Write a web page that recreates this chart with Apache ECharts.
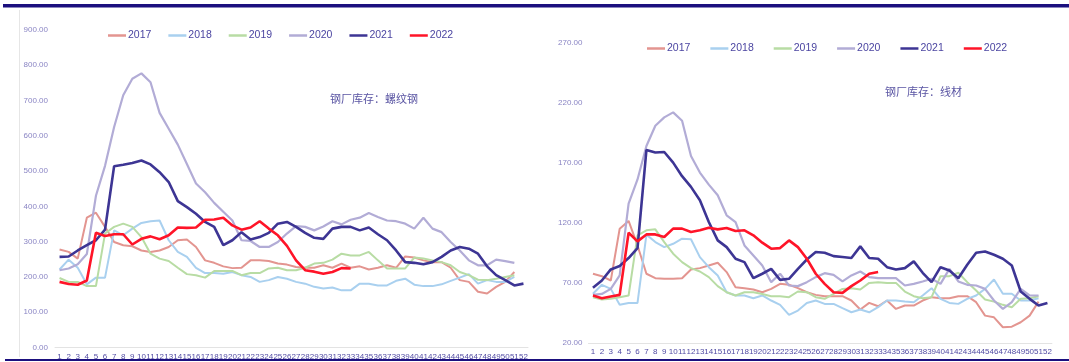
<!DOCTYPE html>
<html>
<head>
<meta charset="utf-8">
<script src="https://cdn.jsdelivr.net/npm/echarts@6/dist/echarts.min.js"></script>
<style>
  html, body { margin: 0; padding: 0; background: #ffffff; }
  #chart { width: 1069px; height: 362px; }
</style>
</head>
<body>
<div id="chart"></div>
<script>
// Week numbers 1..52
const weeks = Array.from({ length: 52 }, (_, i) => String(i + 1));
const years = ['2017', '2018', '2019', '2020', '2021', '2022'];

// Steel mill inventory: rebar (螺纹钢), weekly
const rebar2017 = [278,271,252,368,382,342,299,290,287,275,271,275,285,304,306,285,247,240,230,225,226,247,247,245,238,235,228,226,226,233,226,238,226,230,221,226,233,226,258,255,247,242,242,226,191,186,158,153,172,186,214];
const rebar2018 = [221,249,226,179,198,198,332,318,337,353,358,360,304,271,257,226,211,211,209,214,205,200,186,191,200,195,186,181,172,167,170,162,162,181,181,176,176,189,195,178,174,174,179,189,198,208,181,191,186,186,200];
const rebar2019 = [197,186,186,174,174,323,342,351,342,313,266,252,245,226,208,205,198,217,217,217,205,211,211,224,226,219,219,226,238,240,249,266,261,261,271,247,224,224,224,255,252,247,242,233,214,205,192,191,195,200,205];
const rebar2020 = [219,224,236,265,430,515,625,715,762,777,752,665,620,575,520,465,440,410,385,360,304,302,285,285,299,323,344,342,332,343,358,349,362,368,381,370,360,358,351,337,368,337,327,299,275,247,233,233,249,245,240];
const rebar2021 = [257,258,275,290,304,334,514,518,523,530,519,497,469,415,398,379,356,342,290,304,327,306,313,325,351,356,342,325,311,308,337,342,342,332,340,321,304,275,242,240,236,242,257,275,285,280,266,230,205,191,176,181];
const rebar2022 = [186,180,178,190,325,316,321,321,292,308,315,307,318,340,339,340,362,363,368,346,334,340,358,337,318,288,247,219,215,209,214,225,224];

// Steel mill inventory: wire rod (线材), weekly
const wire2017 = [77.7,75.7,72.1,115.3,121.7,101.3,77.7,74,73.5,73.5,74,81.3,82.4,84.6,86.9,79.1,66.5,65.7,64.6,62.3,65.1,69.3,68.5,65.7,62.3,60.1,59,59,59,55.4,47.9,53.4,50.6,55.4,48.4,51.2,51.2,55.4,58.2,57.3,57.3,59,59,54,42.8,41.4,33.1,33.6,37.3,42.8,54.5];
const wire2018 = [61,68.5,65.1,51.8,53.4,53.4,110.3,104.1,99.9,102.7,106.9,106.4,91.6,83.2,76.3,62.3,59.6,59.6,57.3,59.6,55.4,51.8,43.4,47,53.4,55.4,52.6,52.6,49,45.6,47.9,45.6,49.8,55.4,55.4,54.5,54,59.6,65.7,56.8,53.4,52.6,56.8,59.6,65.1,72.9,61,61,55.4,55.4,57.3];
const wire2019 = [58.2,56.2,56.8,58.2,59.6,109.7,113.9,114.7,104.1,94.4,87.4,82.4,79.6,74.9,67.4,62.3,59.6,62.3,62.3,60.9,59,59,58.2,62.9,62.3,58.2,56.8,60.9,65.1,65.7,64.6,70.1,70.7,70.1,70.1,62.9,59,57.3,58.2,75.7,75.7,78.5,70.7,63.7,56.2,54.5,51.8,49.8,56.8,57.3,59];
const wire2020 = [60.1,60.9,65.1,76.3,136.2,156.3,184.2,201,208,212.2,205.2,175.9,162,152,143.1,126.4,120.8,101.3,93,84.6,70.7,77.7,67.9,67.4,70.7,74.9,78.2,76.8,71.3,76.3,79.6,74.9,74,74,74,67.9,69.3,71.3,73.5,69.3,81.8,71.3,68.5,67.9,65.1,55.4,48.4,54,65.1,59.6,59.6];
const wire2021 = [66,72.1,81.3,84.1,90.8,99.1,180.9,178.7,179.2,170.3,159,150.1,138.9,120.8,105.5,99.9,90.2,87.4,74,77.7,81.8,72.6,73.5,81.8,89.6,95.8,95.2,92.4,91.6,90.8,100.5,90.8,90.2,83.2,81.3,82.4,88,78.5,70.7,83.2,80.4,74,85.2,95.2,96.3,93.5,90.2,84.6,62.9,56.8,51.2,53.4];
const wire2022 = [59.6,57.3,58.7,60.1,111.9,104.7,110.5,110.5,108.3,115.3,115.3,112.5,113.9,116.1,114.7,115.8,113.3,113.9,109.7,103.6,98.6,99.1,105.5,99.9,90.2,77.7,69.3,62.3,61.8,67.4,72.1,77.7,79.1];

const rebarSeries = [rebar2017, rebar2018, rebar2019, rebar2020, rebar2021, rebar2022];
const wireSeries = [wire2017, wire2018, wire2019, wire2020, wire2021, wire2022];

const colors = ['#e39590', '#a9d0ef', '#b8dca4', '#b2acd6', '#3d3594', '#ff1428'];
const widths = [2, 2, 2, 2.2, 2.6, 2.6];

const labelColor = '#8a85c4';
const catColor = '#514ba3';

function makeSeries(dataList, axisIdx) {
  return dataList.map((d, i) => ({
    name: years[i],
    type: 'line',
    xAxisIndex: axisIdx,
    yAxisIndex: axisIdx,
    data: d,
    symbol: 'none',
    smooth: false,
    z: i === 5 ? 10 : (i === 4 ? 9 : 2 + i),
    lineStyle: { color: colors[i], width: widths[i] },
    itemStyle: { color: colors[i] }
  }));
}

function legendAt(left, top, gap) {
  return {
    left: left, top: top,
    icon: 'rect', itemWidth: 18, itemHeight: 2.5, itemGap: gap,
    data: years,
    textStyle: { fontSize: 10.5, color: '#4b45a1', fontFamily: 'Liberation Sans', padding: [0, 0, 0, -3] }
  };
}

function xAxisFor(gridIndex) {
  return {
    type: 'category', gridIndex: gridIndex, data: weeks, boundaryGap: true,
    axisLine: { lineStyle: { color: '#e3e3e3', width: 1 } },
    axisTick: { show: false },
    axisLabel: { interval: 0, fontSize: 8, color: catColor, margin: 5, fontFamily: 'Liberation Sans' },
    splitLine: { show: false }
  };
}

function yAxisFor(gridIndex, min, max, interval, margin) {
  return {
    type: 'value', gridIndex: gridIndex, min: min, max: max, interval: interval,
    axisLine: { show: false }, axisTick: { show: false },
    splitLine: { show: false },
    axisLabel: { fontSize: 8, color: labelColor, margin: margin, fontFamily: 'Liberation Sans',
      formatter: v => v.toFixed(2) }
  };
}

const chart = echarts.init(document.getElementById('chart'), null, { renderer: 'canvas' });
chart.setOption({
  animation: false,
  backgroundColor: '#ffffff',
  grid: [
    { left: 55, top: 30, width: 473, height: 317.5 },
    { left: 588.5, top: 43, width: 463.4, height: 300 }
  ],
  legend: [legendAt(103, 25, 17), legendAt(642, 38, 20)],
  xAxis: [xAxisFor(0), xAxisFor(1)],
  yAxis: [yAxisFor(0, 0, 900, 100, 7), yAxisFor(1, 20, 270, 50, 6)],
  series: makeSeries(rebarSeries, 0).concat(makeSeries(wireSeries, 1)),
  graphic: [
    { type: 'rect', shape: { x: 3, y: 4, width: 1066, height: 3.5 }, style: { fill: '#1b0f7e' }, silent: true },
    { type: 'rect', shape: { x: 5, y: 359, width: 1064, height: 2 }, style: { fill: '#1b0f7e' }, silent: true },
    { type: 'line', shape: { x1: 19.5, y1: 10, x2: 19.5, y2: 357 }, style: { stroke: '#e6e6e6', lineWidth: 1 }, silent: true },
    { type: 'text', left: 330, top: 93, silent: true,
      style: { text: '钢厂库存：螺纹钢', fontSize: 11, fill: '#5a55a3', fontFamily: 'Noto Sans CJK SC' } },
    { type: 'text', left: 885, top: 86, silent: true,
      style: { text: '钢厂库存：线材', fontSize: 11, fill: '#5a55a3', fontFamily: 'Noto Sans CJK SC' } }
  ]
});
</script>
</body>
</html>
